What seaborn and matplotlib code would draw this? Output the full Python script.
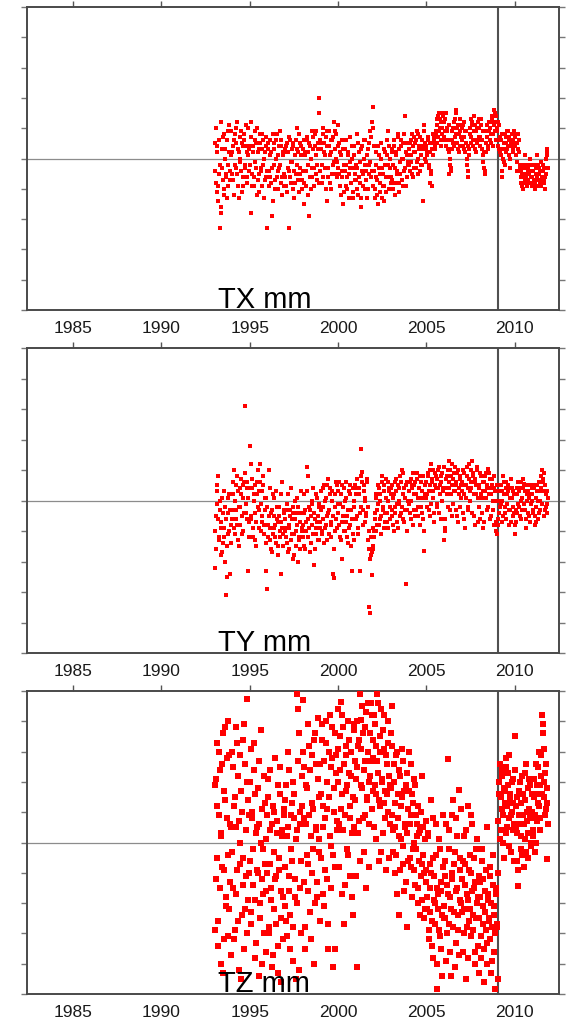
import numpy as np
import pandas as pd
import matplotlib
matplotlib.use("Agg")
import matplotlib.pyplot as plt
import seaborn as sns

# ---------------- data ----------------
# first set of epochs (decimal years)
epochs = [
    1993.05, 1993.10, 1993.15, 1993.20, 1993.25, 1993.30, 1993.35, 1993.40, 1993.45, 1993.50,
    1993.55, 1993.60, 1993.65, 1993.70, 1993.75, 1993.80, 1993.85, 1993.90, 1993.95,
    1994.00, 1994.05, 1994.10, 1994.15, 1994.20, 1994.25, 1994.30, 1994.35, 1994.40, 1994.45,
    1994.50, 1994.55, 1994.60, 1994.65, 1994.70, 1994.75, 1994.80, 1994.85, 1994.90, 1994.95,
    1995.00, 1995.05, 1995.10, 1995.15, 1995.20, 1995.25, 1995.30, 1995.35, 1995.40, 1995.45,
    1995.50, 1995.55, 1995.60, 1995.65, 1995.70, 1995.75, 1995.80, 1995.85, 1995.90, 1995.95,
    1996.00, 1996.05, 1996.10, 1996.15, 1996.20, 1996.25, 1996.30, 1996.35, 1996.40, 1996.45,
    1996.50, 1996.55, 1996.60, 1996.65, 1996.70, 1996.75, 1996.80, 1996.85, 1996.90, 1996.95,
    1997.00, 1997.05, 1997.10, 1997.15, 1997.20, 1997.25, 1997.30, 1997.35, 1997.40, 1997.45,
    1997.50, 1997.55, 1997.60, 1997.65, 1997.70, 1997.75, 1997.80, 1997.85, 1997.90, 1997.95,
    1998.00, 1998.05, 1998.10, 1998.15, 1998.20, 1998.25, 1998.30, 1998.35, 1998.40, 1998.45,
    1998.50, 1998.55, 1998.60, 1998.65, 1998.70, 1998.75, 1998.80, 1998.85, 1998.90, 1998.95,
    1999.00, 1999.05, 1999.10, 1999.15, 1999.20, 1999.25, 1999.30, 1999.35, 1999.40, 1999.45,
    1999.50, 1999.55, 1999.60, 1999.65, 1999.70, 1999.75, 1999.80, 1999.85, 1999.90, 1999.95,
    2000.00, 2000.05, 2000.10, 2000.15, 2000.20, 2000.25, 2000.30, 2000.35, 2000.40, 2000.45,
    2000.50, 2000.55, 2000.60, 2000.65, 2000.70, 2000.75, 2000.80, 2000.85, 2000.90, 2000.95,
    2001.00, 2001.05, 2001.10, 2001.15, 2001.20, 2001.25, 2001.30, 2001.35, 2001.40, 2001.45,
    2001.50, 2001.55, 2001.60, 2001.65, 2001.70, 2001.75, 2001.80, 2001.85, 2001.90, 2001.95,
    2002.00, 2002.05, 2002.10, 2002.15, 2002.20, 2002.25, 2002.30, 2002.35, 2002.40, 2002.45,
    2002.50, 2002.55, 2002.60, 2002.65, 2002.70, 2002.75, 2002.80, 2002.85, 2002.90, 2002.95,
    2003.00, 2003.05, 2003.10, 2003.15, 2003.20, 2003.25, 2003.30, 2003.35, 2003.40, 2003.45,
    2003.50, 2003.55, 2003.60, 2003.65, 2003.70, 2003.75, 2003.80, 2003.85, 2003.90, 2003.95,
    2004.00, 2004.05, 2004.10, 2004.15, 2004.20, 2004.25, 2004.30, 2004.35, 2004.40, 2004.45,
    2004.50, 2004.55, 2004.60, 2004.65, 2004.70, 2004.75, 2004.80, 2004.85, 2004.90, 2004.95,
    2005.00, 2005.05, 2005.10, 2005.15, 2005.20, 2005.25, 2005.30, 2005.35, 2005.40, 2005.45,
    2005.50, 2005.55, 2005.60, 2005.65, 2005.70, 2005.75, 2005.80, 2005.85, 2005.90, 2005.95,
    2006.00, 2006.05, 2006.10, 2006.15, 2006.20, 2006.25, 2006.30, 2006.35, 2006.40, 2006.45,
    2006.50, 2006.55, 2006.60, 2006.65, 2006.70, 2006.75, 2006.80, 2006.85, 2006.90, 2006.95,
    2007.00, 2007.05, 2007.10, 2007.15, 2007.20, 2007.25, 2007.30, 2007.35, 2007.40, 2007.45,
    2007.50, 2007.55, 2007.60, 2007.65, 2007.70, 2007.75, 2007.80, 2007.85, 2007.90, 2007.95,
    2008.00, 2008.05, 2008.10, 2008.15, 2008.20, 2008.25, 2008.30, 2008.35, 2008.40, 2008.45,
    2008.50, 2008.55, 2008.60, 2008.65, 2008.70, 2008.75, 2008.80, 2008.85, 2008.90, 2008.95,
    2009.00, 2009.05, 2009.10, 2009.15, 2009.20, 2009.25, 2009.30, 2009.35, 2009.40, 2009.45,
    2009.50, 2009.55, 2009.60, 2009.65, 2009.70, 2009.75, 2009.80, 2009.85, 2009.90, 2009.95,
    2010.00, 2010.05, 2010.10, 2010.15, 2010.20, 2010.25, 2010.30, 2010.35, 2010.40, 2010.45,
    2010.50, 2010.55, 2010.60, 2010.65, 2010.70, 2010.75, 2010.80, 2010.85, 2010.90, 2010.95,
    2011.00, 2011.05, 2011.10, 2011.15, 2011.20, 2011.25, 2011.30, 2011.35, 2011.40, 2011.45,
    2011.50, 2011.55, 2011.60, 2011.65, 2011.70, 2011.75, 2011.80, 2011.85,
]

# second, interleaved set of epochs
epochs_b = [
    1993.025, 1993.075, 1993.125, 1993.175, 1993.225, 1993.275, 1993.325, 1993.375, 1993.425, 1993.475,
    1993.525, 1993.575, 1993.625, 1993.675, 1993.725, 1993.775, 1993.825, 1993.875, 1993.925,
    1994.025, 1994.075, 1994.125, 1994.175, 1994.225, 1994.275, 1994.325, 1994.375, 1994.425, 1994.475,
    1994.525, 1994.575, 1994.625, 1994.675, 1994.725, 1994.775, 1994.825, 1994.875, 1994.925, 1994.975,
    1995.025, 1995.075, 1995.125, 1995.175, 1995.225, 1995.275, 1995.325, 1995.375, 1995.425, 1995.475,
    1995.525, 1995.575, 1995.625, 1995.675, 1995.725, 1995.775, 1995.825, 1995.875, 1995.925, 1995.975,
    1996.025, 1996.075, 1996.125, 1996.175, 1996.225, 1996.275, 1996.325, 1996.375, 1996.425, 1996.475,
    1996.525, 1996.575, 1996.625, 1996.675, 1996.725, 1996.775, 1996.825, 1996.875, 1996.925, 1996.975,
    1997.025, 1997.075, 1997.125, 1997.175, 1997.225, 1997.275, 1997.325, 1997.375, 1997.425, 1997.475,
    1997.525, 1997.575, 1997.625, 1997.675, 1997.725, 1997.775, 1997.825, 1997.875, 1997.925, 1997.975,
    1998.025, 1998.075, 1998.125, 1998.175, 1998.225, 1998.275, 1998.325, 1998.375, 1998.425, 1998.475,
    1998.525, 1998.575, 1998.625, 1998.675, 1998.725, 1998.775, 1998.825, 1998.875, 1998.925, 1998.975,
    1999.025, 1999.075, 1999.125, 1999.175, 1999.225, 1999.275, 1999.325, 1999.375, 1999.425, 1999.475,
    1999.525, 1999.575, 1999.625, 1999.675, 1999.725, 1999.775, 1999.825, 1999.875, 1999.925, 1999.975,
    2000.025, 2000.075, 2000.125, 2000.175, 2000.225, 2000.275, 2000.325, 2000.375, 2000.425, 2000.475,
    2000.525, 2000.575, 2000.625, 2000.675, 2000.725, 2000.775, 2000.825, 2000.875, 2000.925, 2000.975,
    2001.025, 2001.075, 2001.125, 2001.175, 2001.225, 2001.275, 2001.325, 2001.375, 2001.425, 2001.475,
    2001.525, 2001.575, 2001.625, 2001.675, 2001.725, 2001.775, 2001.825, 2001.875, 2001.925, 2001.975,
    2002.025, 2002.075, 2002.125, 2002.175, 2002.225, 2002.275, 2002.325, 2002.375, 2002.425, 2002.475,
    2002.525, 2002.575, 2002.625, 2002.675, 2002.725, 2002.775, 2002.825, 2002.875, 2002.925, 2002.975,
    2003.025, 2003.075, 2003.125, 2003.175, 2003.225, 2003.275, 2003.325, 2003.375, 2003.425, 2003.475,
    2003.525, 2003.575, 2003.625, 2003.675, 2003.725, 2003.775, 2003.825, 2003.875, 2003.925, 2003.975,
    2004.025, 2004.075, 2004.125, 2004.175, 2004.225, 2004.275, 2004.325, 2004.375, 2004.425, 2004.475,
    2004.525, 2004.575, 2004.625, 2004.675, 2004.725, 2004.775, 2004.825, 2004.875, 2004.925, 2004.975,
    2005.025, 2005.075, 2005.125, 2005.175, 2005.225, 2005.275, 2005.325, 2005.375, 2005.425, 2005.475,
    2005.525, 2005.575, 2005.625, 2005.675, 2005.725, 2005.775, 2005.825, 2005.875, 2005.925, 2005.975,
    2006.025, 2006.075, 2006.125, 2006.175, 2006.225, 2006.275, 2006.325, 2006.375, 2006.425, 2006.475,
    2006.525, 2006.575, 2006.625, 2006.675, 2006.725, 2006.775, 2006.825, 2006.875, 2006.925, 2006.975,
    2007.025, 2007.075, 2007.125, 2007.175, 2007.225, 2007.275, 2007.325, 2007.375, 2007.425, 2007.475,
    2007.525, 2007.575, 2007.625, 2007.675, 2007.725, 2007.775, 2007.825, 2007.875, 2007.925, 2007.975,
    2008.025, 2008.075, 2008.125, 2008.175, 2008.225, 2008.275, 2008.325, 2008.375, 2008.425, 2008.475,
    2008.525, 2008.575, 2008.625, 2008.675, 2008.725, 2008.775, 2008.825, 2008.875, 2008.925, 2008.975,
    2009.025, 2009.075, 2009.125, 2009.175, 2009.225, 2009.275, 2009.325, 2009.375, 2009.425, 2009.475,
    2009.525, 2009.575, 2009.625, 2009.675, 2009.725, 2009.775, 2009.825, 2009.875, 2009.925, 2009.975,
    2010.025, 2010.075, 2010.125, 2010.175, 2010.225, 2010.275, 2010.325, 2010.375, 2010.425, 2010.475,
    2010.525, 2010.575, 2010.625, 2010.675, 2010.725, 2010.775, 2010.825, 2010.875, 2010.925, 2010.975,
    2011.025, 2011.075, 2011.125, 2011.175, 2011.225, 2011.275, 2011.325, 2011.375, 2011.425, 2011.475,
    2011.525, 2011.575, 2011.625, 2011.675, 2011.725, 2011.775, 2011.825, 2011.875,
]

tx = [
    0.5, -0.8, 0.2, -1.4, -0.5, -2.3, 1.2, -1.8, -0.3, 0.7, -1.0, 0.3, -0.6, -1.3, 0.9, -0.2, 1.1, -0.7, 0.1,
    -0.5, 0.4, -1.2, 0.8, -0.3, 0.5, 1.2, -0.9, 0.2, -0.1, 0.9, -1.1, 0.4, -0.6, 0.6, -0.2, 1.1, -0.8, 0.1, 0.3,
    0.4, -1.8, 1.2, -0.5, 0.2, -0.9, 0.6, -0.3, 1.0, -0.7, 0.3, -1.1, 0.5, -0.4, 0.8, -0.2, -1.3, 0.2, -0.6, 0.7,
    -2.3, 0.5, -0.4, 0.1, -0.8, -1.9, 0.8, -0.2, 0.3, -1.0, 0.6, -0.6, 0.1, -0.3, 0.9, -0.8, 0.4, -1.2, 0.2, -0.5,
    -0.6, 0.4, -1.1, 0.2, -0.4, -2.3, 0.6, -0.8, -0.1, 0.5, -1.3, 0.1, -0.5, 0.3, 1.0, -0.7, 0.8, -0.3, 0.4, -1.0,
    -0.4, 0.6, -1.5, 0.2, -0.9, 0.7, -0.2, -1.9, 0.4, -1.0, 0.9, -0.6, 0.3, -0.3, 0.8, 0.1, -0.7, 0.5, 2.0, 1.5,
    -0.4, 0.5, -0.8, 1.0, 0.2, -0.3, 0.7, -1.4, 0.4, -0.6, 0.9, 0.1, -1.0, 0.6, -0.2, 1.2, 0.3, -0.5, 0.8, -0.1,
    1.1, -0.5, 0.2, -1.2, -0.4, 0.6, -1.5, -0.2, 0.3, -0.9, -0.6, 0.1, -1.3, -0.3, 0.7, -0.8, 0.0, -1.1, 0.4, -0.5,
    -0.7, 0.8, -0.3, -1.2, 0.2, -0.8, -1.6, 0.4, -0.5, 0.0, -1.0, 0.6, -0.4, -1.3, 0.3, -0.2, 0.9, -0.6, 1.2, 1.7,
    -0.9, 0.4, -1.3, -0.2, -0.7, -1.5, 0.1, -0.5, -1.1, 0.5, -0.3, -0.9, -1.4, 0.2, -0.6, 0.6, -0.2, 0.9, -1.0, 0.0,
    -0.6, 0.3, -1.0, 0.6, -0.3, -0.8, 0.2, -0.5, 0.8, -1.1, -0.1, 0.4, -0.7, 0.5, 0.0, -0.4, 1.4, -0.9, 0.1, -0.2,
    0.3, -0.4, 0.6, -0.1, 0.8, -0.6, 0.2, 0.5, -0.3, 0.9, 0.0, -0.5, 0.4, 0.7, -0.2, 0.3, -1.4, 1.1, 0.5, -0.1,
    0.4, 0.1, 0.7, -0.3, 0.2, -0.5, -0.9, 0.5, 0.8, 0.6, 0.3, 0.9, 1.3, 0.7, 1.5, 1.0, 0.4, 1.2, 0.8, 1.4,
    1.2, 0.6, 1.5, 0.9, 0.3, 1.1, -0.5, 0.0, -0.3, 0.6, 1.0, 0.4, 1.3, 0.8, 1.6, 0.5, 1.1, 0.2, 0.9, 0.7,
    1.0, 0.4, 1.2, 0.7, 0.2, 0.9, -0.2, -0.6, 0.1, 0.8, 1.3, 0.5, 1.1, 0.6, 1.4, 0.3, 0.9, 0.5, 1.2, 0.7,
    1.0, 0.4, 1.3, 0.6, 0.1, -0.3, -0.5, 0.2, 0.7, 1.1, 0.4, 0.9, 1.2, 0.5, 1.4, 0.8, 1.6, 1.1, 1.5, 0.6,
    0.9, 0.4, 1.1, 0.2, 0.6, 0.8, -0.6, 0.0, 0.5, -0.2, 0.7, 0.3, 0.9, 0.1, 0.6, -0.3, 0.4, 0.8, 0.2, 0.5,
    0.7, 0.1, 0.5, -0.4, 0.8, 0.2, -0.3, -0.8, -0.5, -1.0, -0.2, -0.7, 0.1, -0.6, -0.9, -0.3, -0.5, 0.0, -0.8, -0.4,
    -0.6, -0.9, -0.2, -1.0, -0.5, 0.1, -0.7, -0.3, -0.8, -0.4, -0.9, -0.6, -0.2, -0.7, -1.0, -0.5, 0.3, 0.1,
]

tx_b = [
    -0.4, 1.0, -1.1, 0.4, -0.9, 0.6, -0.2, -1.6, 0.3, -0.7, 0.8, -1.2, 0.0, -0.5, 0.6, -0.9, 0.2, -0.4, 0.9,
    0.2, -0.7, 0.6, -0.2, 1.0, -0.5, 0.3, -1.3, 0.7, 0.0, -0.4, 0.5, -0.9, 0.8, -0.3, 0.4, -0.6, 0.2, 1.0, -0.4,
    -0.2, 0.7, -0.9, 0.4, -0.6, 0.9, -0.1, 0.5, -1.2, 0.2, -0.5, 0.8, -0.3, 0.3, -0.9, 0.6, 0.0, -0.7, 0.4, -0.4,
    0.3, -0.9, 0.6, -0.6, 0.2, -0.3, -1.4, 0.5, -0.7, 0.0, 0.8, -0.4, -1.0, 0.4, -0.2, 0.6, -0.6, 0.1, -0.9, 0.3,
    0.2, -0.9, 0.5, -0.3, 0.7, -0.6, -0.1, 0.3, -1.0, 0.4, -0.4, -0.8, 0.6, -0.2, 0.2, -1.1, 0.5, -0.5, 0.1, -0.7,
    0.3, -0.8, 0.1, -0.4, 0.6, -1.2, 0.2, 0.5, -0.6, 0.0, -0.3, 0.7, -0.9, 0.4, -0.5, 0.9, -0.2, 0.3, -0.8, 0.6,
    0.3, -0.2, 0.8, -0.6, 0.5, 0.1, -1.0, 0.9, -0.3, 0.4, -0.8, 0.6, 0.2, -0.5, 0.7, -0.1, 0.9, 0.0, -0.6, 0.4,
    -0.3, 0.5, -0.9, 0.1, -0.6, 0.3, -1.1, -0.4, 0.6, -0.2, -1.0, 0.2, -0.5, -0.1, -0.8, 0.4, -1.3, -0.3, 0.1, -0.7,
    -0.2, -1.0, 0.5, -0.6, -0.1, -1.3, 0.3, -0.4, -0.9, 0.6, -0.2, -0.7, 0.1, -1.0, 0.5, -0.5, -0.1, 0.7, -0.4, 1.0,
    -0.4, -1.0, 0.2, -0.6, -1.2, 0.4, -0.3, -0.8, 0.0, -1.3, -0.5, 0.3, -0.9, -0.2, -1.1, 0.1, -0.6, 0.4, -0.3, -0.8,
    0.2, -0.7, -0.2, 0.4, -1.2, 0.1, -0.4, 0.7, -0.8, 0.3, -0.5, 0.6, 0.0, -0.9, 0.8, -0.3, 0.2, -0.6, 0.5, -0.1,
    -0.2, 0.5, 0.1, -0.5, 0.4, 0.7, -0.3, 0.2, 0.6, -0.1, 0.8, 0.3, -0.4, 0.1, 0.6, -0.2, 0.4, 0.9, 0.0, 0.3,
    0.2, 0.6, -0.2, 0.5, -0.8, -0.4, 0.3, 0.1, 0.7, 0.4, 0.8, 0.5, 1.1, 1.4, 0.9, 1.3, 0.6, 1.0, 1.5, 0.7,
    0.9, 1.3, 0.4, 1.0, 0.6, 0.2, -0.2, -0.4, 0.3, 0.9, 0.5, 1.2, 0.7, 1.5, 1.0, 0.3, 0.8, 1.3, 0.4, 1.1,
    0.6, 1.1, 0.3, 0.9, 0.5, 0.0, -0.4, 0.4, 0.3, 1.0, 0.7, 1.2, 0.4, 0.9, 0.6, 1.1, 0.2, 1.0, 0.6, 1.3,
    0.7, 1.1, 0.3, 0.9, -0.1, 0.2, -0.4, 0.5, 0.9, 0.3, 1.2, 0.6, 1.0, 0.8, 1.3, 0.4, 1.2, 0.9, 1.4, 1.0,
    0.6, 1.2, 0.3, 0.7, 0.1, -0.4, 0.3, -0.1, 0.8, 0.2, 0.5, 0.9, 0.4, 0.7, 0.0, 0.5, 0.8, 0.3, 0.6, 0.9,
    0.4, 0.8, -0.1, 0.3, 0.6, -0.2, -0.6, -0.4, -0.9, -0.6, -0.3, -0.8, -0.5, -0.2, -0.7, -0.4, -0.8, -0.2, -0.6, -0.9,
    -0.4, -0.7, -0.8, -0.3, -0.9, -0.6, -0.2, -0.5, -0.9, -0.1, -0.7, -0.4, -0.8, -0.3, -0.6, 0.0, 0.2, -0.3,
]

ty = [
    -2.2, -0.5, 0.3, 0.8, -1.2, -0.3, -1.8, -0.7, 0.1, -1.4, -0.9, -0.2, -3.1, -2.5, -1.1, -0.4, 0.2, -2.4, -0.8,
    -0.6, 0.2, 1.0, -1.1, -0.3, 0.5, -0.8, 0.3, -1.5, -0.2, 0.7, -0.5, 0.1, -1.0, 0.6, 3.1, -0.4, 0.4, -2.3, -0.7,
    1.8, 1.2, -0.6, 0.4, -1.2, 0.2, -0.4, -1.5, 0.6, -0.2, 0.3, -0.9, 1.2, -0.1, -0.7, 0.5, -1.1, -0.3, -2.3, 0.1,
    -2.9, -0.8, 1.0, -1.3, -0.4, -1.7, 0.2, -0.9, -0.5, -1.2, 0.3, -0.6, -1.5, -0.2, -1.0, -0.7, -2.4, 0.6, -1.1, -0.4,
    -0.9, -0.3, -1.4, 0.2, -0.8, -1.6, -0.5, 0.4, -1.1, -0.2, -1.8, -0.6, -1.0, 0.1, -0.4, -2.0, -1.3, -0.7, 0.3, -0.9,
    -1.2, -0.4, 0.2, -1.6, -0.7, 1.1, 0.8, -0.9, -0.3, -1.4, -0.1, -0.8, 0.4, -2.1, -0.6, -1.1, 0.1, -0.5, -1.3, -0.2,
    -0.7, 0.3, -1.1, -0.2, 0.5, -0.9, 0.1, -0.5, -1.3, 0.7, -0.3, 0.4, -0.8, 0.0, -2.4, -2.55, -1.0, 0.2, -0.6, 0.5,
    -0.4, 0.6, -1.2, 0.2, -0.7, -1.9, -0.2, 0.4, -1.0, 0.1, -0.5, -1.4, 0.3, -0.8, 0.5, -0.3, -2.3, -1.1, 0.0, -0.6,
    0.2, -0.5, 0.7, -0.9, 0.4, -2.3, 1.7, 0.95, -0.3, 0.5, -0.7, 0.1, -0.4, 0.6, -1.3, -3.5, -3.7, -1.8, -2.45, -1.5,
    -1.6, -1.0, -0.4, 0.2, -0.8, -0.1, 0.4, -0.6, 0.0, -1.1, 0.8, -0.3, 0.5, -0.7, 0.1, -0.4, 0.6, -0.9, 0.3, -0.2,
    0.4, -0.5, 0.1, -1.0, 0.6, -0.2, 0.3, -0.7, 0.5, -0.1, 0.8, -0.4, 1.0, 0.2, -0.6, 0.4, -0.3, -2.75, 0.6, 0.0,
    0.3, -0.4, 0.7, 0.0, 0.5, -0.8, 0.2, 0.6, -0.3, 0.9, 0.1, -0.5, 0.4, 0.8, -0.2, 0.3, -0.6, -1.65, 0.5, 0.1,
    0.6, -0.2, 0.9, 0.3, -0.5, 1.2, 0.7, 0.1, 1.0, -0.4, 0.5, 0.8, -0.1, 0.4, 1.1, 0.2, -0.6, 0.6, 0.9, 0.3,
    -1.3, -0.9, 0.4, 0.8, -0.2, 1.3, 0.6, 1.0, 0.2, -0.5, 0.7, 0.3, 1.1, -0.3, 0.5, 0.9, -0.7, 0.4, 0.8, 0.1,
    0.6, -0.4, 0.9, 0.2, -0.9, 0.5, 1.1, -0.2, 0.7, 0.3, 1.0, 0.4, 1.3, 0.8, -0.5, 0.6, 0.2, 1.0, -0.7, 0.4,
    0.5, -0.6, 0.8, 0.1, -0.9, 0.6, 0.3, 0.9, -0.3, 0.4, 1.05, 0.2, 0.7, -0.5, 0.5, 0.0, 0.8, -0.8, 0.3, -1.0,
    -1.1, -0.6, 0.3, -0.2, 0.5, 0.0, -0.7, 0.8, 0.2, -0.4, 0.6, -0.1, 0.3, -0.8, 0.4, -0.3, 0.7, 0.1, -0.5, 0.2,
    -1.1, -0.7, 0.2, -0.4, 0.6, -0.2, 0.4, -0.6, 0.1, 0.7, 0.55, -0.3, 0.3, -0.9, 0.0, 0.5, -0.5, 0.2, -0.1, 0.4,
    0.2, -0.4, 0.5, -0.8, -0.2, 0.3, -0.6, 0.6, 0.0, -0.3, 0.4, 1.0, 0.7, -0.5, 0.5, -0.2, 0.3, -0.1,
]

ty_b = [
    -1.0, -1.6, -0.1, 0.5, -0.6, -1.3, 0.0, -0.9, -1.7, -0.4, 0.3, -1.2, -2.0, -0.6, -1.5, 0.1, -1.0, -0.3, -1.4,
    -0.3, 0.6, -0.9, 0.0, -0.6, 0.8, -1.3, -0.2, 0.4, -0.8, 0.2, -1.1, 0.5, -0.4, 0.9, -0.1, 0.6, -0.6, 0.1, -1.2,
    0.4, -0.5, 0.7, -0.9, 0.0, -1.3, 0.5, -0.7, 0.2, 1.0, -0.3, 0.6, -1.0, 0.3, -0.5, 0.8, -0.8, 0.1, -1.4, -0.2,
    -1.2, -0.5, 0.4, -0.9, -1.6, -0.3, -1.1, 0.1, -0.8, -1.4, -0.2, -0.7, -1.8, -0.5, -1.2, 0.2, -0.9, -1.5, -0.3, -1.0,
    -0.6, -1.2, -0.1, -1.7, -0.9, -0.3, -1.3, -0.6, -1.9, -0.4, -1.1, 0.0, -1.5, -0.8, -0.2, -1.2, -0.7, -1.6, -0.4, -1.0,
    -0.8, -1.5, -0.3, -1.0, 0.3, -0.6, -1.2, -0.2, -1.7, -0.5, 0.0, -1.1, -0.4, -1.6, -0.9, 0.2, -0.7, -1.3, -0.1, -0.9,
    -0.3, -1.0, 0.4, -0.6, -1.4, 0.0, -0.8, 0.5, -0.4, -1.1, 0.2, -0.7, -1.2, 0.3, -0.5, -1.6, -0.2, 0.6, -0.9, -0.1,
    0.3, -0.8, -0.1, -1.3, 0.5, -0.5, -1.0, 0.0, -0.7, 0.6, -1.2, -0.3, -0.9, 0.2, -1.5, -0.6, 0.4, -1.3, -0.2, 0.5,
    -0.6, 0.4, -1.1, 0.2, -0.4, 0.8, -0.2, 0.6, -0.8, 0.3, 0.0, -0.5, 0.7, -0.2, -1.0, -1.6, -1.9, -1.2, -1.7, -0.9,
    -1.2, -0.6, 0.1, -1.0, -0.3, 0.5, -0.8, 0.2, -0.5, 0.6, -0.2, -0.9, 0.3, -0.4, 0.7, -0.7, 0.0, 0.4, -0.6, 0.2,
    -0.3, 0.5, -0.8, 0.2, -0.4, 0.7, -0.1, -0.9, 0.4, 0.0, -0.5, 0.6, -0.2, 0.9, -0.7, 0.1, 0.5, -1.0, -0.3, 0.6,
    -0.1, 0.6, -0.6, 0.4, 0.9, -0.3, 0.5, -0.5, 0.2, 0.7, -0.2, 0.4, -0.8, 0.6, 0.1, -0.4, 0.8, -1.0, 0.2, 0.6,
    0.2, 0.8, -0.3, 0.5, 1.0, -0.1, 0.6, 0.3, -0.7, 0.9, 0.4, -0.2, 0.7, 1.0, -0.4, 0.5, 0.8, 0.0, 0.4, 1.1,
    -0.6, -1.0, 0.7, 0.2, 1.0, 0.4, -0.3, 0.8, 0.5, 1.2, -0.1, 0.9, 0.3, 0.6, -0.5, 1.0, 0.2, 0.7, -0.2, 0.5,
    0.3, 1.0, -0.6, 0.5, 0.1, 0.8, -0.3, 0.4, 1.2, 0.0, 0.6, -0.4, 0.9, 0.2, 0.7, -0.8, 0.5, 1.1, 0.1, -0.2,
    0.9, 0.2, -0.4, 0.6, 0.3, -0.7, 0.8, 0.1, 0.5, -0.2, 0.9, 0.4, -0.6, 0.2, 0.7, -0.3, 0.4, 0.0, -0.7, 0.5,
    -0.8, 0.0, -0.4, 0.5, -0.1, 0.3, -0.5, 0.6, -0.2, 0.4, -0.6, 0.2, 0.5, -0.3, 0.1, -0.7, 0.4, -0.2, 0.3, -0.4,
    -0.8, -0.3, 0.4, -0.1, 0.3, -0.5, 0.6, 0.0, -0.3, 0.4, -0.1, 0.5, -0.6, 0.2, -0.4, 0.3, 0.1, -0.7, 0.5, 0.0,
    -0.3, 0.4, -0.5, 0.1, -0.7, 0.5, 0.0, -0.4, 0.3, 0.8, -0.1, 0.6, 0.3, 0.9, -0.3, 0.2, -0.4, 0.1,
]

tz = [
    1.9, -1.2, 3.3, -2.6, 0.9, 2.4, -4.0, 0.3, -0.8, 3.6, -3.2, 1.4, -1.8, 2.8, -0.4, 4.0, -2.2, 0.6, -3.7,
    3.0, -1.5, 1.2, -2.9, 0.5, 3.8, -0.9, 2.2, -4.2, 0.0, 1.7, -2.4, 3.4, -0.5, -3.5, 2.6, -1.1, 4.75, -1.9, 0.9,
    -0.6, 3.1, -2.3, 1.0, -1.4, 2.4, -3.8, 0.3, -0.9, 1.8, -4.4, 0.6, -2.0, 3.7, -1.2, -0.2, -3.0, 1.3, -1.6, 0.1,
    -1.0, 2.1, -2.8, 0.4, -1.5, -4.1, 1.2, -0.3, -2.2, 2.8, -1.1, 0.7, -3.4, -0.5, 1.6, -2.5, -4.6, 0.2, -1.8, 0.9,
    -0.8, 1.9, -3.1, 0.5, -1.6, 2.4, -2.4, -0.2, 1.3, -3.9, 0.8, -1.2, 0.1, -2.0, 4.9, 4.4, -4.2, 1.0, -0.6, 2.2,
    4.7, -1.3, 2.5, -3.5, 0.6, 1.8, -0.7, 3.2, -2.3, 0.2, 2.9, -1.0, 1.1, -4.0, 3.6, 0.4, -1.8, 2.1, -0.3, 1.5,
    2.6, -0.5, 3.9, 1.2, -2.1, 0.8, 3.3, -1.2, 2.0, -3.5, 1.5, 4.2, -0.1, 2.8, -4.1, 1.0, 3.6, -0.8, 2.3, 0.4,
    3.1, 0.6, 2.4, 4.65, -1.7, 1.6, 3.8, -2.7, 0.9, 2.9, 1.9, -0.4, 3.4, 1.2, -1.1, 2.2, 0.3, -2.4, 3.7, 1.4,
    -1.1, 2.5, -4.1, 3.2, 0.7, 4.9, 4.05, 1.8, 3.6, -0.3, 2.7, 0.9, 4.3, 1.5, 3.0, -0.8, 2.2, 4.6, 1.1, 3.4,
    2.8, 0.5, 3.9, 1.6, 4.9, 2.3, -0.6, 3.5, 1.2, 4.4, 2.0, 0.3, 3.1, 1.7, -0.9, 2.6, 4.0, 1.0, 2.2, 0.6,
    1.8, 4.5, 0.4, 2.6, -1.0, 1.3, -0.4, 3.0, 0.8, -2.4, 2.2, 0.1, 1.5, -0.7, 2.7, -1.6, 0.5, 1.9, -2.8, 1.1,
    3.0, 0.6, 2.6, -0.8, 1.6, -0.2, 2.1, -1.4, 0.9, 0.2, -2.0, 1.2, -0.6, 0.4, -1.1, 2.2, -0.4, -2.5, 0.1, -1.3,
    -0.9, -2.2, 0.3, -3.2, -1.5, 1.4, -2.6, -0.5, -3.8, -1.1, -2.0, 0.6, -4.85, -1.7, -2.9, -0.2, -3.5, -1.3, -2.4, 0.9,
    -2.1, -0.6, -3.9, -1.4, 2.75, -2.7, 0.4, -1.8, -4.4, -1.0, 1.4, -2.3, -0.3, -3.3, 0.8, -1.5, -2.9, 1.75, -0.9, -2.0,
    -1.2, -3.6, 0.2, -2.2, -0.7, -4.5, -1.7, 1.2, -2.6, -0.4, -3.1, -1.0, 0.6, -2.4, -1.5, -4.0, -0.2, -2.0, -3.4, -1.1,
    -2.5, -1.3, -3.8, -0.2, -2.1, -4.6, -1.6, -2.9, 0.5, -3.3, -1.9, -2.5, -0.8, -4.3, -2.8, -1.4, -3.6, -2.1, -4.85, -1.7,
    -2.7, -1.0, 1.6, 2.6, 0.4, 1.1, 2.2, 0.0, 1.8, 1.3, 2.5, 0.5, 1.9, 0.8, 2.9, 1.4, -0.3, 1.0, 2.1, 0.6,
    3.5, 1.2, 0.3, -0.6, -1.45, 1.7, 0.6, -0.2, 2.2, 0.9, -0.8, 1.4, 0.1, 2.6, 0.7, -0.5, 1.1, 1.9, -0.1, 0.8,
    1.0, 0.2, 2.1, -0.3, 1.6, 0.7, 2.5, 1.2, 0.4, 1.9, 2.9, 4.2, 3.6, 1.5, 2.3, 1.1, 1.8, -0.55,
]

tz_b = [
    -2.9, 2.1, -0.5, 1.2, -3.4, 3.0, -1.5, 0.2, 2.6, -4.3, 1.7, -0.9, 3.8, -2.1, 0.8, -3.1, 2.9, -1.3, 0.5,
    -0.3, 2.5, -3.2, 1.5, -1.7, 3.3, -2.6, 0.7, -0.7, 2.9, -4.5, 1.0, -1.4, 3.9, -2.2, 0.4, 2.0, -3.0, 1.4, -1.0,
    2.0, -2.7, 0.8, -0.2, 3.3, -1.9, 1.6, -3.3, 0.5, -1.0, 2.7, -2.5, 0.0, -4.0, 1.1, -1.7, 2.2, -0.7, -3.6, 0.9,
    1.5, -3.0, -0.7, 2.4, -1.9, 0.6, -3.7, 1.0, -1.2, -2.7, 0.3, 1.9, -4.3, -0.9, 2.5, -1.6, 0.4, -3.2, 1.1, -2.1,
    1.4, -2.6, 0.2, 3.0, -1.1, -3.5, 0.9, -0.6, 2.0, -2.8, 1.6, -1.8, -4.5, 0.4, 2.7, 3.6, -1.5, 0.6, -3.0, 1.2,
    3.0, 0.8, -2.8, 1.9, -0.4, 3.9, -1.6, 0.9, 2.4, -3.2, 1.3, -0.2, 3.4, -2.0, 0.5, 2.6, -1.3, 4.1, 0.1, -2.6,
    1.6, 3.4, -1.7, 0.5, 2.7, -0.9, 4.0, 1.1, -2.7, 3.0, 0.2, -1.5, 2.5, 3.8, -0.4, 1.8, -3.5, 2.9, 0.7, 4.4,
    2.0, -0.8, 3.5, 1.1, 4.2, 0.4, 2.6, -1.4, 3.2, 1.7, -0.2, 4.0, 2.3, 0.8, 3.0, -1.8, 1.5, 3.9, 0.5, 2.7,
    2.1, 4.0, 0.3, 3.4, -0.6, 1.9, 3.1, 4.5, 0.8, 2.4, 3.8, -1.5, 1.4, 4.6, 2.0, 0.6, 3.6, 2.7, 4.2, 1.7,
    4.2, 1.9, 3.2, 0.1, 2.7, 4.6, 1.4, 3.0, -0.3, 2.1, 3.7, 1.3, 4.2, 0.8, 2.9, 1.6, 3.3, -0.5, 1.9, 3.6,
    0.9, 3.2, -0.3, 2.0, 0.5, 2.9, -1.7, 1.6, 0.2, 2.4, -0.9, 1.2, 3.1, -0.1, 1.7, 0.6, -1.3, 2.3, 0.3, -0.6,
    1.7, -0.5, 0.9, -1.8, 1.3, 0.0, -0.9, 1.9, -0.2, 0.6, -1.5, 0.3, -2.4, 1.0, -0.7, -1.9, 0.5, -1.0, -2.2, 0.7,
    -1.8, 0.2, -2.9, -0.7, -2.3, -1.0, -3.4, 0.8, -1.9, -2.7, -0.4, -4.0, -1.5, -2.2, 0.1, -3.1, -1.6, -4.4, -0.8, -2.5,
    -1.1, -2.5, 0.6, -3.0, -1.7, -0.2, -3.6, -2.2, 0.9, -1.2, -2.8, -0.7, -4.1, -1.6, 0.2, -2.4, -3.7, -0.5, -1.9, 1.1,
    -2.3, -0.6, -3.0, -1.4, 0.4, -2.8, -1.9, -3.8, -0.9, -2.2, 0.9, -1.6, -2.9, -0.5, -3.6, -1.3, -2.5, 0.1, -1.8, -4.3,
    -1.8, -3.1, -0.6, -2.7, -1.2, -3.5, -2.3, -0.9, -4.0, -1.7, -2.6, -3.2, -1.1, -2.0, -3.9, -0.4, -2.4, -3.0, -1.5, -2.8,
    -4.5, 0.7, 2.0, 0.1, 1.5, 2.4, 0.9, -0.5, 1.7, 2.8, 0.3, 1.2, 2.3, -0.1, 1.6, 0.9, 2.0, 0.4, 1.3, -0.6,
    2.4, 0.5, 1.5, -0.9, 0.9, 2.0, 0.2, 1.3, -0.4, 1.6, 0.6, 2.3, -0.3, 1.0, 1.8, 0.3, 2.1, 0.9, 0.0, 1.6,
    0.4, 1.5, 0.9, 2.6, 0.0, 1.9, 1.3, 3.0, 0.8, 2.2, 1.6, 3.9, 3.1, 2.0, 0.9, 2.6, 1.3, 0.6,
]

components = ["TX", "TY", "TZ"]
unit_label = "mm"
year_ticks = [1985, 1990, 1995, 2000, 2005, 2010]
year_labels = ["1985", "1990", "1995", "2000", "2005", "2010"]
y_ticks = [-5, -4, -3, -2, -1, 0, 1, 2, 3, 4, 5]
event_epoch = 2009.05

# ---------------- styling ----------------
sns.set_theme(style="white")
plt.rcParams["font.family"] = ["Liberation Sans Narrow", "Liberation Sans", "DejaVu Sans"]

df = pd.concat([
    pd.DataFrame({"epoch": epochs, "TX": tx, "TY": ty, "TZ": tz}),
    pd.DataFrame({"epoch": epochs_b, "TX": tx_b, "TY": ty_b, "TZ": tz_b}),
], ignore_index=True)

fig = plt.figure(figsize=(5.68, 10.32), dpi=100)
positions = [
    [0.0475, 0.6996, 0.9366, 0.2936],
    [0.0475, 0.3672, 0.9366, 0.2955],
    [0.0475, 0.0368, 0.9366, 0.2936],
]
marker_sizes = [11, 11, 17]

for i, comp in enumerate(components):
    ax = fig.add_axes(positions[i])
    ax.set_facecolor("white")
    ax.axhline(0, color="#8c8c8c", lw=0.9, zorder=1)
    ax.axvline(event_epoch, color="#505050", lw=1.5, zorder=1)
    sns.scatterplot(data=df, x="epoch", y=comp, ax=ax, color="#ff0000",
                    marker="s", s=marker_sizes[i], linewidth=0, zorder=3,
                    legend=False)
    ax.set_xlim(1982.4, 2012.5)
    ax.set_ylim(-5, 5)
    ax.set_xticks(year_ticks)
    ax.set_xticklabels(year_labels)
    ax.set_yticks(y_ticks)
    ax.set_xlabel("")
    ax.set_ylabel("")
    ax.tick_params(axis="x", top=True, bottom=False, labeltop=False,
                   labelbottom=True, direction="out", length=4.5, width=1.0,
                   color="#555555", labelsize=12.5, labelcolor="#1a1a1a", pad=3.5)
    ax.tick_params(axis="y", left=True, right=True, labelleft=False,
                   labelright=False, direction="out", length=4.5, width=1.0,
                   color="#777777")
    for sp in ax.spines.values():
        sp.set_visible(True)
        sp.set_color("#4a4a4a")
        sp.set_linewidth(1.4)
    ax.text(1993.2, -4.93, f"{comp} {unit_label}", fontsize=21,
            ha="left", va="baseline", color="black", zorder=5)

fig.savefig("out.png", dpi=100)
